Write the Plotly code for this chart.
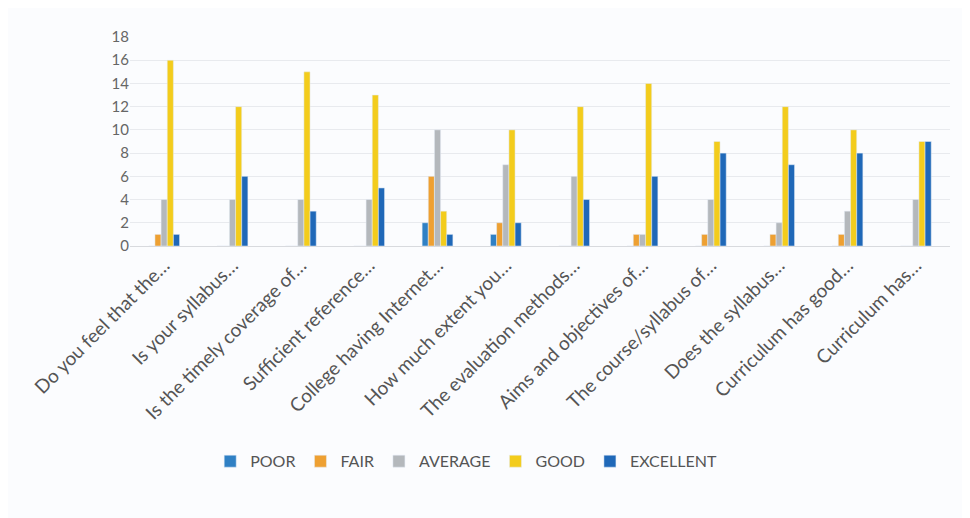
import plotly.graph_objects as go

questions = [
    "Do you feel that the…",
    "Is your syllabus…",
    "Is the timely coverage of…",
    "Sufficient reference…",
    "College having Internet…",
    "How much extent you…",
    "The evaluation methods…",
    "Aims and objectives of…",
    "The course/syllabus of…",
    "Does the syllabus…",
    "Curriculum has good…",
    "Curriculum has…",
]

poor = [0, 0, 0, 0, 2, 1, 0, 0, 0, 0, 0, 0]
fair = [1, 0, 0, 0, 6, 2, 0, 1, 1, 1, 1, 0]
average = [4, 4, 4, 4, 10, 7, 6, 1, 4, 2, 3, 4]
good = [16, 12, 15, 13, 3, 10, 12, 14, 9, 12, 10, 9]
excellent = [1, 6, 3, 5, 1, 2, 4, 6, 8, 7, 8, 9]

series = [
    ("POOR", poor, "#2f80c4"),
    ("FAIR", fair, "#eea032"),
    ("AVERAGE", average, "#b4b8bc"),
    ("GOOD", good, "#f3cc1c"),
    ("EXCELLENT", excellent, "#1f68b8"),
]

fig = go.Figure()
for name, vals, color in series:
    fig.add_trace(go.Bar(x=questions, y=vals, name=name, marker_color=color))

fig.update_layout(
    width=970,
    height=518,
    barmode="group",
    bargap=0.55,
    bargroupgap=0.0,
    paper_bgcolor="#fbfcfe",
    plot_bgcolor="#fbfcfe",
    font=dict(family="Lato, sans-serif", color="#555555", size=13),
    margin=dict(l=122, r=28, t=29, b=280),
    legend=dict(orientation="h", x=0.41, xanchor="center", y=-1.03,
                yanchor="middle", font=dict(size=16, color="#555555"),
                itemwidth=30, traceorder="normal"),
)
fig.update_yaxes(range=[0, 18], dtick=2, showgrid=True, gridcolor="#e8eaee",
                 zeroline=False, ticks="", tickfont=dict(size=15, color="#666"))
fig.update_xaxes(tickangle=-45, showline=True, linecolor="#d8dade",
                 tickfont=dict(size=19, color="#555"), automargin=False)

fig.write_html("out.html")
